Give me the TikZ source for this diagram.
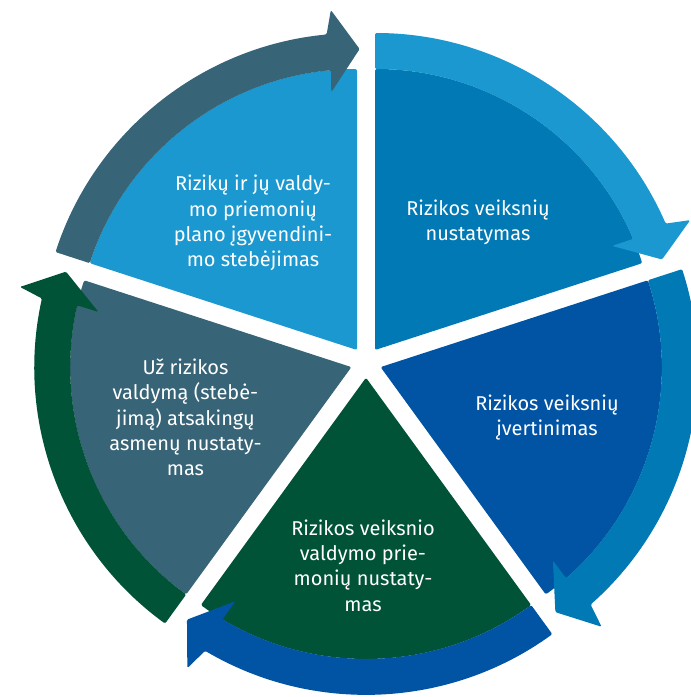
\documentclass[tikz,border=0pt]{standalone}
\usepackage{fontspec}
\setmainfont{Fira Sans}
\definecolor{lightblue}{HTML}{1B98D0}
\definecolor{midblue}{HTML}{0079B5}
\definecolor{darkblue}{HTML}{0054A3}
\definecolor{riskgreen}{HTML}{005336}
\definecolor{slate}{HTML}{376477}

% one pie segment: apex, rotation (end angle), fill colour, arrow colour
\newcommand{\riskseg}[4]{%
  \begin{scope}[shift={#1}, yscale=-1, rotate=#2]
    \fill[#3, rounded corners=1.5] (0,0) -- (72:281) arc[start angle=72, end angle=0, radius=281] -- cycle;
    \fill[#4, rounded corners=1] (72:281) arc[start angle=72, end angle=5.3, radius=281] -- (5.7:259) -- (-0.5:301) -- (4.4:341) -- (5.5:317) arc[start angle=5.5, end angle=72, radius=317] -- cycle;
  \end{scope}}

\begin{document}
\begin{tikzpicture}[x=0.75pt,y=0.75pt,yscale=-1,xscale=1,
  steptext/.style={text=white, align=center, inner sep=0.75pt, font=\fontsize{15}{19}\selectfont}]
\useasboundingbox (0,0) rectangle (691,697);

%Shape: Segments with arrows
\riskseg{(375,350)}{18}{midblue}{lightblue}
\riskseg{(380.6,367.1)}{-54}{darkblue}{midblue}
\riskseg{(366,377.7)}{-126}{riskgreen}{darkblue}
\riskseg{(351.4,367.1)}{162}{slate}{riskgreen}
\riskseg{(357,350)}{90}{lightblue}{slate}

% Text Node
\node[steptext] (monitor) at (253,223) {Rizikų ir jų valdy-\\mo priemonių\\plano įgyvendini-\\mo stebėjimas};
% Text Node
\node[steptext] (identify) at (478,222.5) {Rizikos veiksnių\\nustatymas};
% Text Node
\node[steptext] (assess) at (547,417.5) {Rizikos veiksnių\\įvertinimas};
% Text Node
\node[steptext] (measures) at (363,565.5) {Rizikos veiksnio\\valdymo prie-\\monių nustaty-\\mas};
% Text Node
\node[steptext] (persons) at (185.5,417.5) {Už rizikos\\valdymą (stebė-\\jimą) atsakingų\\asmenų nustaty-\\mas};

\end{tikzpicture}
\end{document}
